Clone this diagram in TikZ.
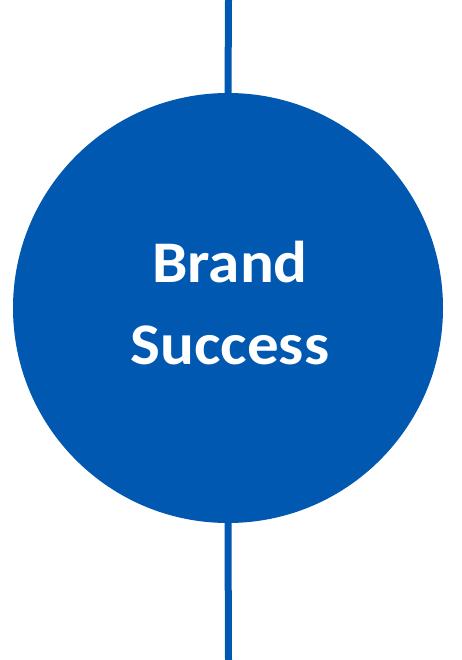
\documentclass[tikz,border=0pt]{standalone}
\usepackage{fontspec}
\newfontfamily\carlito{Carlito}
\definecolor{brandblue}{RGB}{0,88,176}
\begin{document}
\begin{tikzpicture}[x=1pt,y=-1pt,
  axis/.style={draw=brandblue,line width=7pt},
  hub/.style={circle,fill=brandblue,minimum size=430pt,inner sep=0pt},
  hublabel/.style={text=white,align=center,inner sep=0pt,font=\carlito\bfseries\fontsize{59}{82}\selectfont}]
\useasboundingbox (0,0) rectangle (462,660);
\coordinate (top) at (228.5,0);
\coordinate (bot) at (228.5,660);
\node[hub] (c) at (228,308) {};
\node[hublabel] (t) at (230,303) {\scalebox{1.07}[1]{Brand}\\\scalebox{1.07}[1]{Success}};
\draw[axis] (top) -- (c.north);
\draw[axis] (c.south) -- (bot);
\end{tikzpicture}
\end{document}
